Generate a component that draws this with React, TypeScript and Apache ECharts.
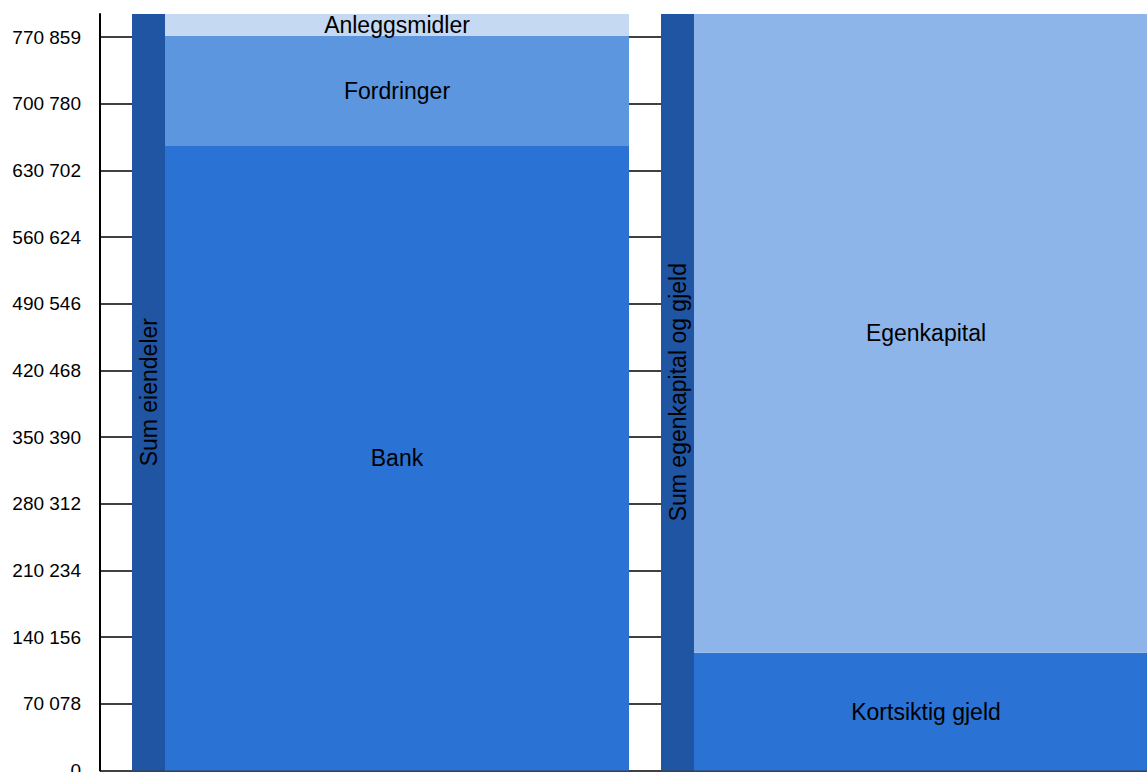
import React, { useEffect, useRef } from "react";
import * as echarts from "echarts";

const categories = ["Eiendeler", "Egenkapital og gjeld"];
const sumLabels = ["Sum eiendeler", "Sum egenkapital og gjeld"];
const sumValues = [795100, 795100];
const bank = [656300, null];
const fordringer = [115600, null];
const anleggsmidler = [23200, null];
const kortsiktigGjeld = [null, 123700];
const egenkapital = [null, 671400];
const tickLabels = [
  "0", "70 078", "140 156", "210 234", "280 312", "350 390",
  "420 468", "490 546", "560 624", "630 702", "700 780", "770 859",
];
const tickTop = 770859;

const FONT = "Liberation Sans";

export default function App() {
  const ref = useRef<HTMLDivElement>(null);
  useEffect(() => {
    if (!ref.current) return;
    const chart = echarts.init(ref.current, null, { renderer: "svg" });
    const step = tickTop / (tickLabels.length - 1);
    const tickValues = tickLabels.map((_, i) => i * step);
    const partLabel = {
      show: true,
      position: "inside",
      color: "#000",
      fontFamily: FONT,
      fontSize: 23,
      formatter: (p: any) => p.seriesName,
    };
    const part = (name: string, data: (number | null)[], color: string) => ({
      name,
      type: "bar",
      stack: "parts",
      barWidth: 464,
      barGap: "0%",
      data: data.map((v) => (v === null ? "-" : v)),
      itemStyle: { color },
      label: partLabel,
    });
    chart.setOption({
      animation: false,
      grid: {
        left: 116,
        top: 14,
        width: 1058,
        height: 756.4,
        containLabel: false,
        outerBoundsMode: "none",
      },
      xAxis: {
        type: "category",
        data: categories,
        show: false,
      },
      yAxis: {
        type: "value",
        min: 0,
        max: sumValues[0],
        interval: step,
        offset: 16,
        axisLine: { show: true, lineStyle: { color: "#000", width: 2 } },
        axisTick: {
          show: true,
          inside: true,
          length: 16,
          customValues: tickValues,
          lineStyle: { color: "#000", width: 1.5 },
        },
        axisLabel: {
          customValues: tickValues,
          margin: 19,
          color: "#000",
          fontFamily: FONT,
          fontSize: 19,
          formatter: (v: number) => tickLabels[Math.round(v / step)] ?? "",
        },
        splitLine: {
          show: true,
          lineStyle: {
            color: [...tickLabels.map(() => "#000"), "rgba(0,0,0,0)"],
            width: 1.5,
          },
        },
      },
      series: [
        {
          name: "Sum",
          type: "bar",
          stack: "sum",
          barWidth: 33,
          barGap: "0%",
          data: sumValues,
          itemStyle: { color: "#1f55a2" },
          label: {
            show: true,
            position: "inside",
            rotate: 90,
            color: "#000",
            fontFamily: FONT,
            fontSize: 23,
            formatter: (p: any) => sumLabels[p.dataIndex],
          },
        },
        part("Bank", bank, "#2a72d4"),
        part("Fordringer", fordringer, "#5b96df"),
        part("Anleggsmidler", anleggsmidler, "#c5d9f2"),
        part("Kortsiktig gjeld", kortsiktigGjeld, "#2a72d4"),
        part("Egenkapital", egenkapital, "#8db5e9"),
      ],
    });
    return () => chart.dispose();
  }, []);
  return (
    <div
      ref={ref}
      style={{ position: "absolute", left: 0, top: 0, width: 1147, height: 772 }}
    />
  );
}
